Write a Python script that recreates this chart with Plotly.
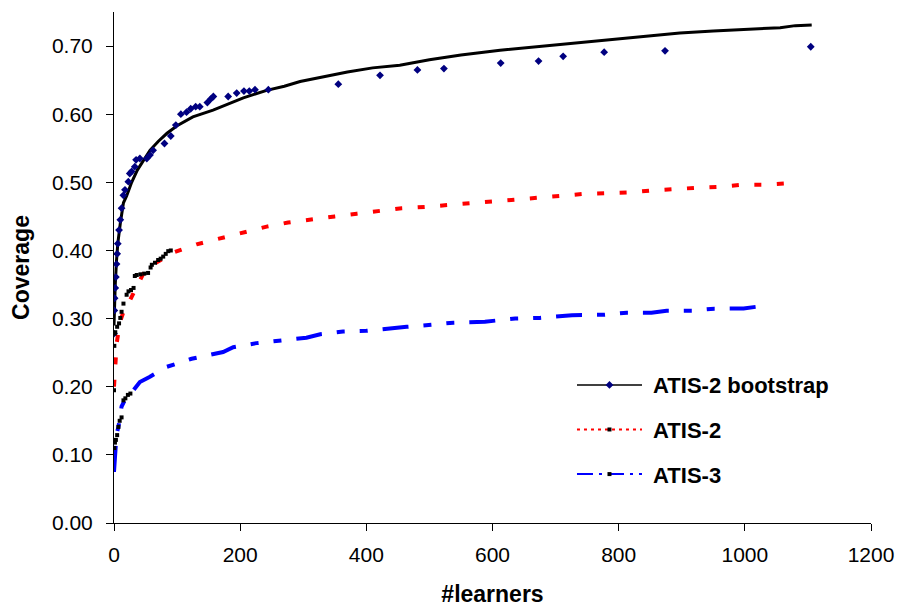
import plotly.graph_objects as go

# ATIS-2 bootstrap: smoothed coverage curve
boot_x = [0, 1, 2, 4, 6, 10, 15, 20, 28, 37, 47, 57, 70, 84, 100, 125, 157, 180, 205,
          242, 270, 295, 330, 370, 410, 453, 500, 550, 612, 680, 739, 800, 860, 897,
          950, 1000, 1056, 1080, 1106]
boot_y = [0.290, 0.330, 0.350, 0.385, 0.410, 0.440, 0.470, 0.480, 0.500, 0.518, 0.533,
          0.547, 0.560, 0.572, 0.583, 0.596, 0.606, 0.615, 0.624, 0.635, 0.641, 0.648,
          0.655, 0.662, 0.668, 0.672, 0.680, 0.687, 0.694, 0.700, 0.705, 0.710, 0.715,
          0.719, 0.722, 0.724, 0.727, 0.730, 0.731]

# ATIS-2 bootstrap: individual measurements
boot_pts_x = [0, 0.5, 1, 2, 3, 4, 5, 6, 8, 10, 12, 14.8, 17.4, 22.7, 25, 28, 33, 35, 41,
              52, 57, 62, 80, 90, 98, 106, 115, 121.6, 129.5, 136, 148, 153, 157.5, 181,
              194.5, 206, 214.5, 223.5, 244.7, 355.6, 421.7, 481, 523, 613, 673, 712,
              777, 873.5, 1104.5]
boot_pts_y = [0.278, 0.312, 0.330, 0.345, 0.361, 0.380, 0.395, 0.410, 0.430, 0.445, 0.462,
              0.481, 0.489, 0.501, 0.513, 0.516, 0.523, 0.533, 0.535, 0.535, 0.540, 0.547,
              0.557, 0.568, 0.584, 0.600, 0.603, 0.608, 0.611, 0.611, 0.617, 0.622, 0.626,
              0.626, 0.631, 0.634, 0.634, 0.636, 0.636, 0.644, 0.657, 0.665, 0.667, 0.675,
              0.678, 0.685, 0.691, 0.693, 0.699]

# ATIS-2: coverage curve
atis2_x = [0, 1.6, 4.3, 9.5, 15, 22.7, 36, 46.5, 65, 94, 131, 168, 205, 242, 276, 313,
           350, 385, 422, 456, 493, 530, 565, 601, 637, 674, 707, 744, 781, 815, 852,
           889, 924, 961, 996, 1032, 1068, 1078]
atis2_y = [0.200, 0.235, 0.264, 0.295, 0.310, 0.322, 0.347, 0.366, 0.381, 0.397, 0.409,
           0.418, 0.4275, 0.435, 0.441, 0.446, 0.450, 0.454, 0.458, 0.462, 0.464, 0.467,
           0.470, 0.473, 0.4745, 0.4775, 0.480, 0.483, 0.484, 0.485, 0.488, 0.4905,
           0.492, 0.4935, 0.4965, 0.4965, 0.498, 0.499]

# ATIS-2: individual measurements
atis2_pts_x = [0, 0.5, 1, 2, 5, 8, 10, 12, 15, 20, 23, 27, 31, 33, 36, 42, 48, 54, 58,
               60, 65, 70, 74, 78, 82, 86, 90]
atis2_pts_y = [0.195, 0.260, 0.278, 0.280, 0.288, 0.293, 0.301, 0.310, 0.322, 0.335,
               0.340, 0.342, 0.345, 0.3625, 0.364, 0.365, 0.366, 0.367, 0.375, 0.379,
               0.382, 0.386, 0.388, 0.391, 0.395, 0.399, 0.400]

# ATIS-3: coverage curve
atis3_x = [0, 2, 4, 7, 12, 20, 31, 41, 57, 83, 123, 173, 189, 226, 262, 305, 327, 363,
           400, 437, 464, 503, 538, 588, 636, 675, 726, 778, 813, 852, 876, 916, 952,
           998, 1013, 1024]
atis3_y = [0.075, 0.110, 0.130, 0.141, 0.171, 0.1855, 0.195, 0.207, 0.2147, 0.229, 0.241,
           0.251, 0.258, 0.264, 0.2675, 0.272, 0.277, 0.281, 0.282, 0.2847, 0.288, 0.291,
           0.294, 0.2955, 0.300, 0.301, 0.305, 0.3057, 0.3086, 0.3086, 0.3116, 0.3116,
           0.3146, 0.315, 0.3175, 0.318]

# ATIS-3: individual measurements
atis3_pts_x = [0.5, 1.5, 3, 5, 7, 9, 12, 15, 18, 22, 26]
atis3_pts_y = [0.110, 0.118, 0.122, 0.129, 0.141, 0.150, 0.155, 0.180, 0.183, 0.188, 0.190]

series_names = ["ATIS-2 bootstrap", "ATIS-2", "ATIS-3"]

FONT = "Arial, Liberation Sans, sans-serif"
RED_DASH = "7px,15.5px"
BLUE_DASH = "26px,15px,8px,15px,8px,15px"
PAD = "\u00a0"

fig = go.Figure()

# curves
fig.add_trace(go.Scatter(x=boot_x, y=boot_y, mode="lines", showlegend=False,
                         line=dict(color="black", width=3)))
fig.add_trace(go.Scatter(x=atis2_x, y=atis2_y, mode="lines", showlegend=False,
                         line=dict(color="#ff0000", width=4, dash=RED_DASH)))
fig.add_trace(go.Scatter(x=atis3_x, y=atis3_y, mode="lines", showlegend=False,
                         line=dict(color="#0000ff", width=4, dash=BLUE_DASH)))

# measured points
fig.add_trace(go.Scatter(x=boot_pts_x, y=boot_pts_y, mode="markers", showlegend=False,
                         marker=dict(symbol="diamond", color="#000080", size=6)))
fig.add_trace(go.Scatter(x=atis2_pts_x, y=atis2_pts_y, mode="markers", showlegend=False,
                         marker=dict(symbol="square", color="black", size=4)))
fig.add_trace(go.Scatter(x=atis3_pts_x, y=atis3_pts_y, mode="markers", showlegend=False,
                         marker=dict(symbol="square", color="black", size=4)))

# legend entries
fig.add_trace(go.Scatter(x=[None], y=[None], mode="lines+markers",
                         name=PAD + series_names[0],
                         legendgroup="a", line=dict(color="black", width=1.5),
                         marker=dict(symbol="diamond", color="#000080", size=6)))
fig.add_trace(go.Scatter(x=[None], y=[None], mode="lines+markers",
                         name=PAD + series_names[1],
                         legendgroup="b", line=dict(color="#ff0000", width=2, dash="3px,4px"),
                         marker=dict(symbol="square", color="black", size=4)))
fig.add_trace(go.Scatter(x=[None], y=[None], mode="lines+markers",
                         name=PAD + series_names[2],
                         legendgroup="c",
                         line=dict(color="#0000ff", width=2, dash="16px,6px,3px,6px"),
                         marker=dict(symbol="square", color="black", size=4)))

fig.update_layout(
    width=898, height=607,
    margin=dict(l=114, r=27, t=12, b=84, autoexpand=False),
    paper_bgcolor="white", plot_bgcolor="white",
    font=dict(family=FONT, color="black", size=21),
    legend=dict(x=0.605, y=0.311, xanchor="left", yanchor="top", itemwidth=65,
                tracegroupgap=13, bgcolor="rgba(0,0,0,0)",
                font=dict(family=FONT, size=22, color="black", weight="bold")),
    xaxis=dict(range=[0, 1200], dtick=200, showgrid=False, zeroline=False,
               showline=True, linecolor="black", linewidth=1, automargin=False,
               ticks="outside", ticklen=7, tickcolor="black",
               ticklabelstandoff=6,
               title=dict(text="<b>#learners</b>", standoff=26,
                          font=dict(size=23, family=FONT))),
    yaxis=dict(range=[0, 0.75], tickvals=[0, 0.1, 0.2, 0.3, 0.4, 0.5, 0.6, 0.7],
               tickformat=".2f", showgrid=False, zeroline=False,
               showline=True, linecolor="black", linewidth=1, automargin=False,
               ticks="outside", ticklen=7, tickcolor="black",
               ticklabelstandoff=9,
               title=dict(text="<b>Coverage</b>", standoff=15,
                          font=dict(size=23, family=FONT))),
)

fig.write_html("out.html")
